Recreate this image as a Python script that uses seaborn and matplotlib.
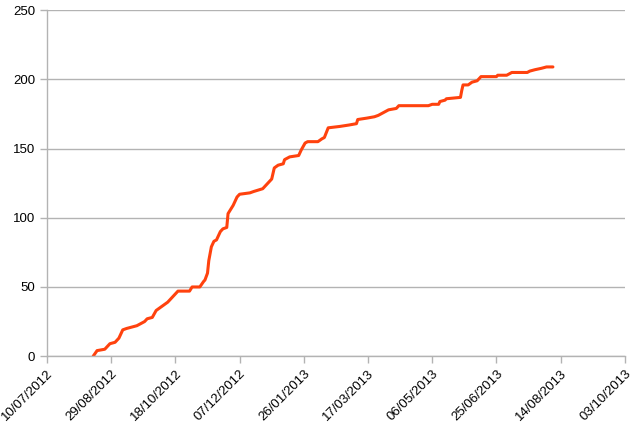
import pandas as pd
import seaborn as sns
import matplotlib
matplotlib.use("Agg")
import matplotlib.pyplot as plt
import matplotlib.dates as mdates

dates = [
    "2012-08-15", "2012-08-18", "2012-08-24", "2012-08-28", "2012-09-01",
    "2012-09-04", "2012-09-07", "2012-09-10", "2012-09-18", "2012-09-20",
    "2012-09-24", "2012-09-26", "2012-09-30", "2012-10-03", "2012-10-09",
    "2012-10-12", "2012-10-18", "2012-10-20", "2012-10-29", "2012-10-31",
    "2012-11-06", "2012-11-09", "2012-11-10", "2012-11-12", "2012-11-13",
    "2012-11-15", "2012-11-17", "2012-11-19", "2012-11-22", "2012-11-24",
    "2012-11-27", "2012-11-28", "2012-11-30", "2012-12-02", "2012-12-05",
    "2012-12-07", "2012-12-15", "2012-12-18", "2012-12-25", "2012-12-28",
    "2013-01-01", "2013-01-03", "2013-01-06", "2013-01-10", "2013-01-11",
    "2013-01-15", "2013-01-22", "2013-01-24", "2013-01-27", "2013-01-29",
    "2013-02-06", "2013-02-09", "2013-02-11", "2013-02-14", "2013-02-23",
    "2013-03-02", "2013-03-08", "2013-03-09", "2013-03-16", "2013-03-22",
    "2013-03-25", "2013-03-29", "2013-04-02", "2013-04-08", "2013-04-10",
    "2013-05-03", "2013-05-06", "2013-05-11", "2013-05-12", "2013-05-16",
    "2013-05-17", "2013-05-28", "2013-05-29", "2013-05-30", "2013-06-03",
    "2013-06-06", "2013-06-10", "2013-06-13", "2013-06-25", "2013-06-26",
    "2013-07-03", "2013-07-07", "2013-07-19", "2013-07-21", "2013-07-25",
    "2013-07-30", "2013-08-03", "2013-08-08",
]
counts = [
    0, 4, 5, 9, 10,
    13, 19, 20, 22, 23,
    25, 27, 28, 33, 37,
    39, 45, 47, 47, 50,
    50, 54, 55, 60, 69,
    79, 83, 84, 90, 92,
    93, 103, 106, 109, 115,
    117, 118, 119, 121, 124,
    128, 136, 138, 139, 142,
    144, 145, 149, 154, 155,
    155, 157, 158, 165, 166,
    167, 168, 171, 172, 173,
    174, 176, 178, 179, 181,
    181, 182, 182, 184, 185,
    186, 187, 192, 196, 196,
    198, 199, 202, 202, 203,
    203, 205, 205, 206, 207,
    208, 209, 209,
]

tick_dates = pd.date_range("2012-07-10", "2013-10-03", freq="50D")
y_ticks = [0, 50, 100, 150, 200, 250]

df = pd.DataFrame({"date": pd.to_datetime(dates), "count": counts})

sns.set_style("white")
plt.rcParams["font.family"] = ["Liberation Sans", "DejaVu Sans"]

fig, ax = plt.subplots(figsize=(6.35, 4.25), dpi=100)
fig.subplots_adjust(left=0.074, right=0.984, top=0.976, bottom=0.162)

sns.lineplot(data=df, x="date", y="count", ax=ax, color="#ff420e",
             linewidth=2.2, estimator=None)

grey = "#b3b3b3"
ax.set_xlim(tick_dates[0], tick_dates[-1])
ax.set_ylim(0, 250)
ax.set_yticks(y_ticks)
ax.set_xticks(tick_dates)
ax.xaxis.set_major_formatter(mdates.DateFormatter("%d/%m/%Y"))
ax.yaxis.grid(True, color=grey, linewidth=1)
ax.set_axisbelow(True)
for side in ["top", "right"]:
    ax.spines[side].set_visible(False)
for side in ["left", "bottom"]:
    ax.spines[side].set_color(grey)
    ax.spines[side].set_linewidth(1)
ax.tick_params(axis="both", which="major", length=5, width=1, color=grey,
               labelsize=9.5, labelcolor="black", direction="out",
               left=True, bottom=True)
plt.setp(ax.get_xticklabels(), rotation=45, ha="right", rotation_mode="anchor")
ax.set_xlabel("")
ax.set_ylabel("")

fig.savefig("out.png", dpi=100)
